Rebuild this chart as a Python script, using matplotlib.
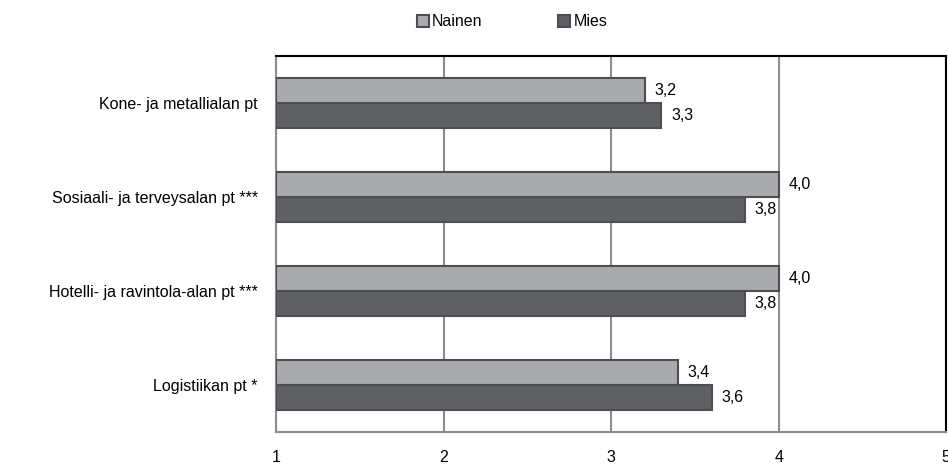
import matplotlib.pyplot as plt
import numpy as np

plt.rcParams['font.family'] = ['Liberation Sans', 'DejaVu Sans']

categories = ["Kone- ja metallialan pt", "Sosiaali- ja terveysalan pt ***",
              "Hotelli- ja ravintola-alan pt ***", "Logistiikan pt *"]
nainen = [3.2, 4.0, 4.0, 3.4]
mies = [3.3, 3.8, 3.8, 3.6]
xticks = [1, 2, 3, 4, 5]

fig = plt.figure(figsize=(9.48, 4.71), dpi=100)
ax = fig.add_axes([0.2911, 0.0828, 0.707, 0.798])

y = np.arange(len(categories))
h = 0.27
edge = '#4d4e52'
fs = 11.5
b1 = ax.barh(y - h / 2, np.array(nainen) - 1, left=1, height=h, color='#a9aaae',
             edgecolor=edge, linewidth=1.5, label='Nainen', zorder=3)
b2 = ax.barh(y + h / 2, np.array(mies) - 1, left=1, height=h, color='#5f6064',
             edgecolor=edge, linewidth=1.5, label='Mies', zorder=3)

for bars, vals in ((b1, nainen), (b2, mies)):
    for bar, v in zip(bars, vals):
        ax.annotate(f"{v:.1f}".replace('.', ','),
                    (v, bar.get_y() + bar.get_height() / 2),
                    xytext=(7, 0), textcoords='offset points',
                    va='center', ha='left', fontsize=fs, zorder=5)

ax.set_xlim(1, 5)
ax.set_ylim(len(categories) - 0.5, -0.5)
ax.set_xticks(xticks)
ax.set_xticklabels([str(t) for t in xticks], fontsize=fs)
ax.set_yticks(y)
ax.set_yticklabels(categories, fontsize=fs)
ax.tick_params(length=0, pad=13, axis='x')
ax.tick_params(length=0, pad=13, axis='y')
ax.grid(axis='x', color='#8c8c8c', linewidth=1.5, zorder=0)

for s in ('left', 'bottom'):
    ax.spines[s].set_color('#8c8c8c')
    ax.spines[s].set_linewidth(1.5)
for s in ('top', 'right'):
    ax.spines[s].set_color('black')
    ax.spines[s].set_linewidth(1.5)

fig.legend(handles=[b1, b2], labels=['Nainen', 'Mies'], loc='upper center',
           bbox_to_anchor=(0.54, 1.0), ncol=2, frameon=False, fontsize=fs,
           handlelength=0.75, handleheight=0.75, handletextpad=0.2,
           columnspacing=4.75)

fig.savefig('out.png', dpi=100)
